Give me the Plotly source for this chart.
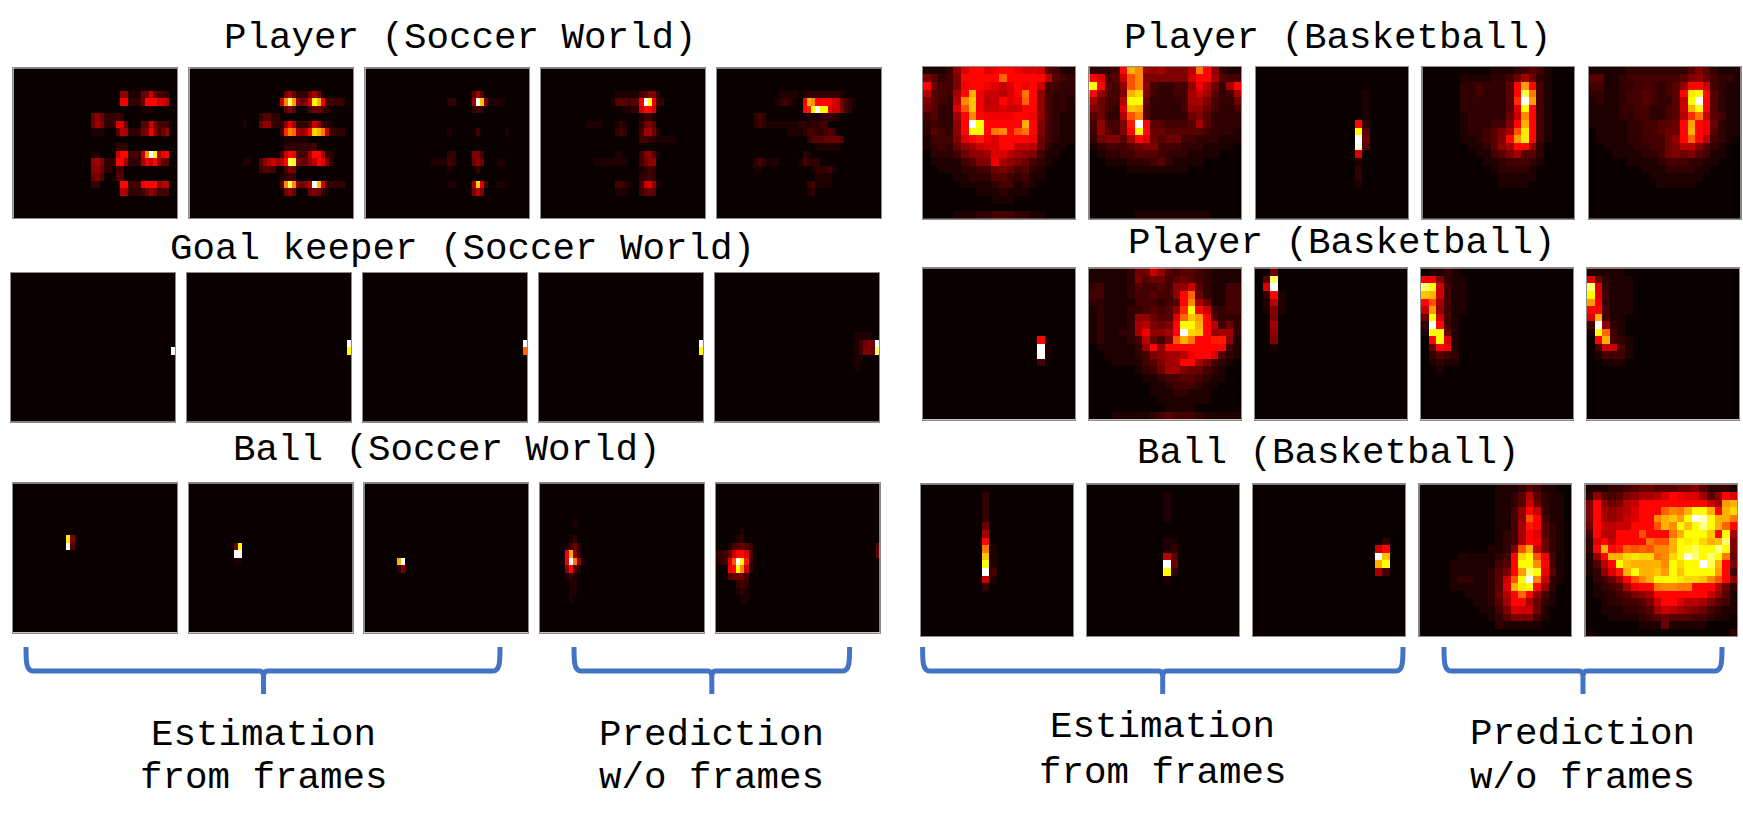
import plotly.graph_objects as go

W, H = 1743, 822
DIGITS = "0123456789abcdefghijklmnopqrstuvwxyz"  # heat level, 0 to 35

# soccer panels are 40 cols x 20 rows, listed as (row, first col, levels)
player_soccer_1 = [
    (3, 26, "7711155a5332"), (4, 26, "cc2225dddbb9"),
    (5, 31, "111"), (6, 19, "57522232"),
    (7, 19, "586222bb5"), (7, 31, "44a6333"),
    (8, 19, "111"), (8, 25, "498222"), (8, 31, "56c7357"),
    (10, 25, "222"),
    (11, 19, "11"), (11, 25, "add333"), (11, 31, "9kzq9cd"),
    (12, 19, "786222"), (12, 25, "dd8222"), (12, 31, "8cad744"),
    (13, 19, "67522"), (13, 25, "33"),
    (14, 19, "564"), (14, 25, "44"),
    (15, 19, "22"), (15, 26, "dd333cddd799"),
    (16, 26, "98222"), (16, 31, "3575333"),
]
player_soccer_2 = [
    (3, 23, "585222585"), (4, 22, "akul756bqmc33232"),
    (5, 23, "464"), (5, 29, "35532"),
    (6, 17, "24422"), (7, 13, "1"), (7, 17, "577222"),
    (7, 23, "7c8222"), (7, 29, "4a7221"),
    (8, 22, "3fki878domja2222"), (9, 23, "111111"), (10, 23, "22222223"),
    (11, 22, "3adc3338dd822"), (12, 13, "11"),
    (12, 17, "479a89dtr65579db62"), (13, 17, "3443"), (13, 23, "365"),
    (14, 22, "1233"), (15, 22, "4ktk7569zna32222"), (16, 23, "575"), (16, 29, "56521"),
]
player_soccer_3 = [
    (3, 26, "484"), (4, 20, "22"), (4, 26, "8zn61111"),
    (5, 26, "232"), (8, 20, "1"), (8, 27, "3"), (8, 34, "1"),
    (11, 20, "22"), (11, 26, "663"), (12, 16, "111132"), (12, 26, "575"), (12, 32, "11"),
    (13, 20, "1"), (13, 27, "2"), (15, 20, "11"), (15, 26, "8ob3"), (15, 32, "11"),
    (16, 26, "696"),
]
player_soccer_4 = [
    (3, 18, "11111134662"), (4, 17, "144434 4czrc32"),
    (5, 20, "1122adda1"), (6, 24, "1221"), (7, 11, "1111"), (7, 18, "121"), (7, 24, "2564"),
    (8, 18, "232"), (8, 24, "38852"), (9, 24, "332211111"),
    (11, 18, "11"), (11, 24, "36741"), (12, 13, "11111111"), (12, 24, "3577"),
    (13, 24, "1232"), (14, 24, "2232"), (15, 18, "3321"), (15, 24, "3ab71"),
    (16, 18, "111"), (16, 24, "3454"),
]
player_soccer_5 = [
    (3, 15, "11111"), (3, 21, "1222222221"),
    (4, 14, "12321"), (4, 21, "cmkddddba532 1"),
    (5, 21, "deqzqqcaa632"), (6, 9, "232"), (6, 22, "11122221"),
    (7, 9, "232"), (7, 12, "111111112"), (7, 21, "212233"),
    (8, 17, "111123322343"),
    (9, 22, "244455554"), (10, 24, "111111"), (11, 21, "21"),
    (12, 9, "232"), (12, 12, "111"), (12, 20, "13222"), (13, 9, "11"), (13, 23, "122231"),
    (14, 24, "1111"), (15, 22, "231111"), (16, 22, "12"),
]
keeper_soccer_1 = [(10, 39, "z")]
keeper_soccer_2 = [(9, 39, "z"), (10, 39, "q")]
keeper_soccer_3 = [(9, 39, "z"), (10, 39, "i")]
keeper_soccer_4 = [(9, 39, "z"), (10, 39, "q")]
keeper_soccer_5 = [(8, 34, "1111"), (9, 34, "13565z"), (10, 34, "13665u"), (11, 34, "11"), (12, 34, "1")]
ball_soccer_1 = [(7, 13, "p6"), (8, 13, "z4")]
ball_soccer_2 = [(8, 11, "5q"), (9, 11, "zz"), (10, 11, "11")]
ball_soccer_3 = [(10, 8, "mz"), (11, 8, "26")]
ball_soccer_4 = [
    (5, 8, "1"), (7, 7, "12"), (8, 6, "1352"), (9, 6, "cm72"), (10, 5, "1czj71"),
    (11, 6, "7d41"), (12, 6, "121"), (13, 7, "11"), (14, 7, "11"), (15, 7, "1"),
]
ball_soccer_5 = [
    (6, 6, "1"), (7, 5, "12"), (8, 3, "134542"), (8, 39, "4"),
    (9, 0, "2235addb4"), (9, 39, "5"), (10, 0, "123bhzre2"), (11, 3, "cdqka2"),
    (12, 3, "45553"), (13, 5, "232"), (14, 5, "121"), (15, 6, "11"),
]

# basketball panels are 20 x 20, rows written in full, blank rows left out
player_bball_1 = [
    "11127bddbcddcbba4311", "64236dddddiddddd9432", "d5336cddcbabdcda3322", "94338dmcaa9bdjd73222",
    "64329knc9adbcid73221", "5422bhncaabaadd73221", "34228dkdccccddc73211", "23227dzqdddddmd63211",
    "24327dqqdjkdhjd63211", "13336bdecbddddc53211", "1232578abbddaa952110", "022235778bb987631100",
    "01111346 6c8765321000", "00111223356534210000", "00001122244323110000", "00000111123312100000",
    "00000001112111000000", "00000000011100000000", "", "00001112233322110000",
]
player_bball_2 = [
    "2223dmk8786669jd7211", "db34ahk666666add8433", "qd437hk7322337c95228d"[:18] + "8d", "d7436mo632233 8a84238",
    "85339qq5222238863225", "6532bnm4222237753223", "45229hk4222225642222", "37336ezd443334842222",
    "37436dqd554444432221", "256648db545533222111", "12333456633322211110", "01223344432221111000",
    "00111222342111100000", "00000111111110000000", "", "", "", "", "", "00000011111111110000",
]
player_bball_3 = [
    "", "", "", "00000000000000100000", "00000000000000100000", "00000000000000100000", "00000000000000100000",
    "0000000000000d200000", "0000000000000q400000", "0000000000000z500000", "0000000000000y400000",
    "0000000000000b000000", "00000000000001000000", "00000000000002000000", "00000000000002000000",
    "00000000000001000000",
]
player_bball_4 = [
    "00000000011123431000", "00000111122358521000", "000002232224dld31000", "000002232224dtj31000",
    "000002222224fzl31000", "000002222224bqd31000", "000001222225akd31000", "000001222336dmd31000",
    "000001223468hpd31000", "00000112346dlpd31000", "000000112478dd720000", "00000001134684420000",
    "00000000112333210000", "00000000012222100000", "00000000001111100000", "00000000001111000000",
]
player_bball_5 = [
    "11111222222224642111", "44112333333346753221", "3311223332347dda3211", "2211233432 34dpqd4211",
    "1211233432 24aqzd4211", "1111223322 34amqc4211", "1111223322 349fja4311", "1111122334 45dldc5211",
    "0111122334 55dmdc4211", "0111122333 57did93210", "00111122335699642100", "00011112235656431100",
    "00000111123332211000", "00000001112222110000", "00000000111111100000", "00000000011111000000",
]
player2_bball_1 = [
    "", "", "", "", "", "", "", "", "", "000000000000000d0000", "000000000000000z1000", "000000000000000z1000",
    "00000000000000030000",
]
player2_bball_2 = [
    "11111255a74344321111", "11111264553454321111", "2311124334377a421133", "331112334337di521133",
    "221111333234dk851133", "121112234347fqda3233", "12111277544binld4222", "12111289656dqqmd9352",
    "1211228c778dzond7882", "12111239536hmjddee71", "01111127d7dddddddd31", "0011112367889cddb421",
    "000111134688dd863210", "00000012358865532100", "00000001123344321100", "00000000112333211000",
    "00000000111221110000", "00000000011111110000", "00000000001111000000", "00011111234333211111",
]
player2_bball_3 = [
    "00500000000000000000", "04u00000000000000000", "0bz00000000000000000", "02d10000000000000000", "01910000000000000000",
    "01610000000000000000", "00600000000000000000", "00800000000000000000", "00700000000000000000", "00600000000000000000",
    "00100000000000000000",
]
player2_bball_4 = [
    "01121000000000000000", "cc621100000000000000", "uqa31100000000000000", "nma31100000000000000",
    "dh831100000000000000", "al731100000000000000", "5qa31000000000000000", "2zd31000000000000000",
    "1qq51000000000000000", "0dqb1000000000000000", "05dc1000000000000000", "02432000000000000000",
    "01211000000000000000", "00100000000000000000",
]
player2_bball_5 = [
    "11111000000000000000", "b5211100000000000000", "ub211100000000000000", "qb311100000000000000",
    "lc211100000000000000", "dd311100000000000000", "bm311000000000000000", "3z721000000000000000",
    "1qi31000000000000000", "0dm32100000000000000", "03aa3100000000000000", "01333100000000000000",
    "00111000000000000000",
]
ball_bball_1 = [
    "", "00000000200000000000", "00000000200000000000", "00000000200000000000", "00000000200000000000",
    "00000000500000000000", "00000000800000000000", "00000000d00000000000", "00000000j10000000000",
    "00000000n10000000000", "00000000q10000000000", "00000000z30000000000", "00000000a10000000000",
    "00000000200000000000",
]
ball_bball_2 = [
    "", "00000000001000000000", "00000000001000000000", "00000000001000000000", "00000000001000000000", "", "",
    "00000000001100000000", "00000000001200000000", "00000000009400000000",
    "0000000000z500000000", "0000000000q200000000", "00000000001000000000",
]
ball_bball_3 = [
    "", "", "", "", "", "", "", "00000000000000000200", "0000000000000000ad00", "0000000000000000zn00",
    "0000000000000000mq00", "00000000000000008300",
]
ball_bball_4 = [
    "00000000001112431100", "00000000001124942110", "00000000001124a52110", "00000000001137da2110",
    "00000000001137hd3110", "00000000001138ed4210", "00000000001238db4210", "00000000001238dc5210",
    "0000000001126hma5210", "000001111123doqhc310", "000011111134dqqkd310", "000011111246dluqc410",
    "000012211 24ahqzka210", "000011111 24bmpqd7200", "000000111259did73100", "00000001124 8dd852100",
    "000000001136baa51000", "00000000012466631000", "00000000002111110000",
]
ball_bball_5 = [
    "11122345544455642221", "274346788 9bdcbb847db", "6d7569addddddddddda8lm"[:16] + "a8lm", "6d8789bdddikjmqqmdmo",
    "6d878abddkmnlqzxqmmj", "5da9aadddhmkqnqvqmid", "3d99dddhdddjmqqqndq8", "2bdaddddjhhmqpqomnu6",
    "2dmdeihihkkmqrtqqvq6", "17dmmopoojkoqyuquqj5", "149dqnmmmmkqoqqztmd6", "127bemqmmnlqnqqqqld3",
    "02358dhkmqqqpoonkhd7", "012348cddjkkjjddd952", "011234678ddddddda741", "001223346addb9986431",
    "0011122348a987653211", "00011112345444332110", "00000001115111110000", "10000000000000000002",
]

soccer_panels = [
    [player_soccer_1, player_soccer_2, player_soccer_3, player_soccer_4, player_soccer_5],
    [keeper_soccer_1, keeper_soccer_2, keeper_soccer_3, keeper_soccer_4, keeper_soccer_5],
    [ball_soccer_1, ball_soccer_2, ball_soccer_3, ball_soccer_4, ball_soccer_5],
]
bball_panels = [
    [player_bball_1, player_bball_2, player_bball_3, player_bball_4, player_bball_5],
    [player2_bball_1, player2_bball_2, player2_bball_3, player2_bball_4, player2_bball_5],
    [ball_bball_1, ball_bball_2, ball_bball_3, ball_bball_4, ball_bball_5],
]

titles = ["Player (Soccer World)", "Goal keeper (Soccer World)", "Ball (Soccer World)",
          "Player (Basketball)", "Player (Basketball)", "Ball (Basketball)"]
captions = ["Estimation", "from frames", "Prediction", "w/o frames"]

# matplotlib "hot"
hot = [[0, "rgb(11,0,0)"], [0.365, "rgb(255,0,0)"], [0.746, "rgb(255,255,0)"], [1, "rgb(255,255,255)"]]


def to_grid(entries, ncols, nrows=20):
    grid = [[0.0] * ncols for _ in range(nrows)]
    for i, e in enumerate(entries):
        row, col, levels = e if isinstance(e, tuple) else (i, 0, e)
        levels = levels.replace(" ", "")
        for j, ch in enumerate(levels):
            if col + j < ncols and ch in DIGITS:
                grid[row][col + j] = DIGITS.index(ch) / 35
    return grid


def px(x):
    return x / W


def py(y):
    return 1 - y / H


fig = go.Figure()
axes = {}
n = 0


def add_row(panels, lefts, width, top, height, ncols):
    global n
    for entries, left in zip(panels, lefts):
        n += 1
        fig.add_trace(go.Heatmap(z=to_grid(entries, ncols), colorscale=hot, zmin=0, zmax=1,
                                 showscale=False, xaxis=f"x{n}", yaxis=f"y{n}", hoverinfo="skip"))
        frame = dict(showline=True, mirror=True, linecolor="#8c8c8c", linewidth=1,
                     showticklabels=False, ticks="", showgrid=False, zeroline=False)
        axes[f"xaxis{n}"] = dict(domain=[px(left), px(left + width)], range=[-0.5, ncols - 0.5],
                                 anchor=f"y{n}", **frame)
        axes[f"yaxis{n}"] = dict(domain=[py(top + height), py(top)], range=[19.5, -0.5],
                                 anchor=f"x{n}", **frame)


add_row(soccer_panels[0], [13.4, 189.4, 365.4, 541, 717], 164, 68.3, 150, 40)
add_row(soccer_panels[1], [11, 187, 363, 539, 715], 164, 272.7, 149, 40)
add_row(soccer_panels[2], [13, 188.7, 364.3, 540, 715.7], 164, 483.3, 149.4, 40)
add_row(bball_panels[0], [923, 1089.3, 1256, 1422.3, 1588.7], 152, 66.7, 152.3, 20)
add_row(bball_panels[1], [923, 1089, 1255, 1421, 1587], 152, 268.3, 151.4, 20)
add_row(bball_panels[2], [921, 1087, 1253, 1419.3, 1585.3], 152, 484.3, 152, 20)


def label(text, x, y):
    return dict(text=text, x=px(x), y=py(y), xref="paper", yref="paper", showarrow=False,
                xanchor="center", yanchor="middle",
                font=dict(family="Liberation Mono", size=37.5, color="black"))


notes = [
    label(titles[0], 461, 38), label(titles[1], 462, 249), label(titles[2], 447.4, 450),
    label(titles[3], 1338.4, 38), label(titles[4], 1341.7, 243), label(titles[5], 1328.4, 453),
    label(captions[0], 263.5, 735), label(captions[1], 263.5, 778),
    label(captions[2], 711.8, 735), label(captions[3], 711.8, 778),
    label(captions[0], 1162.7, 727), label(captions[1], 1162.7, 773),
    label(captions[2], 1582.4, 734), label(captions[3], 1582.4, 778),
]


def brace(x0, x1, xm, top=647, mid=671, tail=694):
    # curly bracket drawn in page pixels, converted to paper coordinates
    def p(x, y):
        return f"{px(x):.5f},{py(y):.5f}"
    path = (f"M{p(x0, top)} C{p(x0, mid - 10)} {p(x0, mid)} {p(x0 + 7, mid)} L{p(xm - 4, mid)} "
            f"Q{p(xm, mid)} {p(xm, mid + 6)} L{p(xm, tail)} M{p(xm, mid + 6)} "
            f"Q{p(xm, mid)} {p(xm + 4, mid)} L{p(x1 - 7, mid)} C{p(x1, mid)} {p(x1, mid - 10)} {p(x1, top)}")
    return dict(type="path", path=path, xref="paper", yref="paper",
                line=dict(color="#4472c4", width=5))


shapes = [brace(26, 500, 263.5), brace(574, 849.6, 711.8),
          brace(922.6, 1403, 1162.7), brace(1444, 1722, 1583)]

fig.update_layout(width=W, height=H, margin=dict(l=0, r=0, t=0, b=0), autosize=False,
                  paper_bgcolor="white", plot_bgcolor="white", showlegend=False,
                  annotations=notes, shapes=shapes, **axes)

fig.write_html("out.html", config={"displayModeBar": False},
               post_script="document.body.style.margin='0';")
